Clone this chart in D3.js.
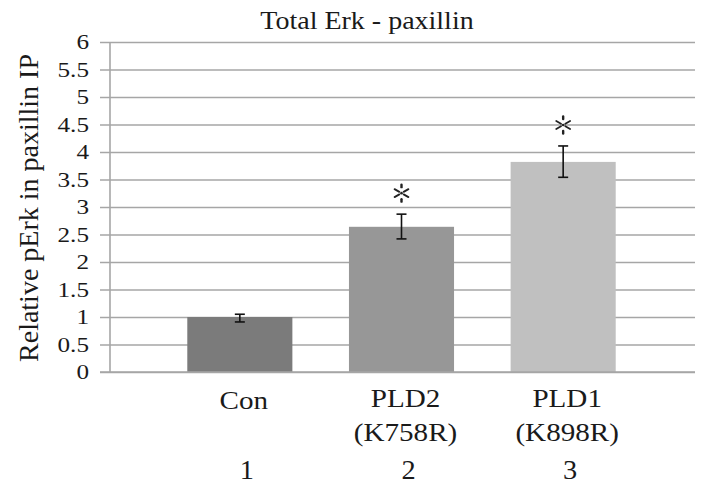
<!DOCTYPE html>
<html>
<head>
<meta charset="utf-8">
<script src="https://cdn.jsdelivr.net/npm/d3@7"></script>
<style>
  html, body { margin: 0; padding: 0; background: #fff; }
  svg { display: block; }
  text { font-family: "Liberation Serif", "Times New Roman", serif; fill: #1a1a1a; }
</style>
</head>
<body>
<svg id="chart" width="703" height="487"></svg>
<script>
// Relative pErk recovered in paxillin IP, per condition
const categories = ["Con", "PLD2 (K758R)", "PLD1 (K898R)"];
const labelLines = [["Con"], ["PLD2", "(K758R)"], ["PLD1", "(K898R)"]];
const laneNumbers = ["1", "2", "3"];
const values = [1.0, 2.64, 3.82];
const errLow = [0.91, 2.42, 3.54];
const errHigh = [1.05, 2.87, 4.11];
const significant = [false, true, true];
const barColors = ["#7b7b7b", "#979797", "#c0c0c0"];
const yTicks = [0, 0.5, 1, 1.5, 2, 2.5, 3, 3.5, 4, 4.5, 5, 5.5, 6];
const title = "Total Erk - paxillin";
const yTitle = "Relative pErk in paxillin IP";

const svg = d3.select("#chart");
const plotLeft = 110, plotRight = 695, plotTop = 42, plotBottom = 372;
const gridColor = "#a6a6a6";

const x = d3.scaleBand()
  .domain(categories)
  .range([159, 644])
  .paddingInner(0.35)
  .paddingOuter(0.175);

const y = d3.scaleLinear().domain([0, 6]).range([plotBottom, plotTop]);

// Horizontally widened text, as in the figure's typesetting
function placeText(sel, px, py, sx) {
  return sel.attr("transform", `translate(${px},${py}) scale(${sx},1)`);
}

// Gridlines with tick stubs to the left of the axis
const yAxis = d3.axisLeft(y)
  .tickValues(yTicks)
  .tickSize(-(plotRight - plotLeft))
  .tickFormat("");
const gy = svg.append("g")
  .attr("transform", `translate(${plotLeft},0)`)
  .call(yAxis);
gy.select(".domain").remove();
gy.selectAll(".tick line")
  .attr("x1", -10)
  .attr("stroke", gridColor)
  .attr("stroke-width", 1.4);

// Vertical axis line
svg.append("line")
  .attr("x1", plotLeft).attr("x2", plotLeft)
  .attr("y1", y(6)).attr("y2", y(0))
  .attr("stroke", gridColor).attr("stroke-width", 1.6);

// Tick labels
svg.append("g").selectAll("text")
  .data(yTicks)
  .join("text")
  .attr("text-anchor", "end")
  .attr("dy", "0.35em")
  .style("font-size", "21px")
  .text(d => d3.format("~g")(d))
  .each(function (d) { placeText(d3.select(this), 89, y(d), 1.2); });

// Bars
svg.append("g").selectAll("rect")
  .data(categories)
  .join("rect")
  .attr("x", d => x(d))
  .attr("width", x.bandwidth())
  .attr("y", (d, i) => y(values[i]))
  .attr("height", (d, i) => y(0) - y(values[i]))
  .attr("fill", (d, i) => barColors[i]);

// Baseline drawn over the bars
svg.append("line")
  .attr("x1", plotLeft - 10).attr("x2", plotRight)
  .attr("y1", y(0)).attr("y2", y(0))
  .attr("stroke", gridColor).attr("stroke-width", 1.6);

// Error bars
const cap = 5;
const eb = svg.append("g").attr("stroke", "#111").attr("stroke-width", 1.6);
categories.forEach((c, i) => {
  const cx = x(c) + x.bandwidth() / 2;
  eb.append("line").attr("x1", cx).attr("x2", cx)
    .attr("y1", y(errLow[i])).attr("y2", y(errHigh[i]));
  eb.append("line").attr("x1", cx - cap).attr("x2", cx + cap)
    .attr("y1", y(errHigh[i])).attr("y2", y(errHigh[i]));
  eb.append("line").attr("x1", cx - cap).attr("x2", cx + cap)
    .attr("y1", y(errLow[i])).attr("y2", y(errLow[i]));
});

// Significance asterisks above the error bars
const star = svg.append("g").attr("stroke", "#222").attr("stroke-linecap", "round");
categories.forEach((c, i) => {
  if (!significant[i]) return;
  const cx = x(c) + x.bandwidth() / 2;
  const cy = y(errHigh[i]) - 21;
  const g = star.append("g").attr("transform", `translate(${cx},${cy})`);
  [30, 150, 210, 330].forEach(a => {
    const r = a * Math.PI / 180;
    g.append("line")
      .attr("x1", 2.5 * Math.cos(r)).attr("y1", -2.5 * Math.sin(r))
      .attr("x2", 8 * Math.cos(r)).attr("y2", -8 * Math.sin(r))
      .attr("stroke-width", 1.8);
  });
  [-1, 1].forEach(s => {
    g.append("line")
      .attr("x1", 0).attr("x2", 0)
      .attr("y1", s * 6).attr("y2", s * 8.5)
      .attr("stroke-width", 2.4);
  });
  g.append("circle").attr("r", 1.3).attr("fill", "#222").attr("stroke", "none");
});

// Category labels
const catG = svg.append("g");
categories.forEach((c, i) => {
  const cx = x(c) + x.bandwidth() / 2 + 4;
  const lines = labelLines[i];
  const baselines = lines.length === 1 ? [409] : [407, 441];
  lines.forEach((t, k) => {
    catG.append("text")
      .attr("text-anchor", "middle")
      .style("font-size", "26px")
      .text(t)
      .call(s => placeText(s, cx, baselines[k], 1.12));
  });
  catG.append("text")
    .attr("text-anchor", "middle")
    .style("font-size", "27px")
    .text(laneNumbers[i])
    .call(s => placeText(s, cx + 3, 479, 1.05));
});

// Title
svg.append("text")
  .attr("text-anchor", "middle")
  .style("font-size", "25px")
  .text(title)
  .call(s => placeText(s, 367, 29, 1.12));

// Y axis title
svg.append("text")
  .attr("text-anchor", "middle")
  .attr("transform", `translate(38,${(plotTop + plotBottom) / 2 + 1}) rotate(-90)`)
  .style("font-size", "28px")
  .text(yTitle);
</script>
</body>
</html>
